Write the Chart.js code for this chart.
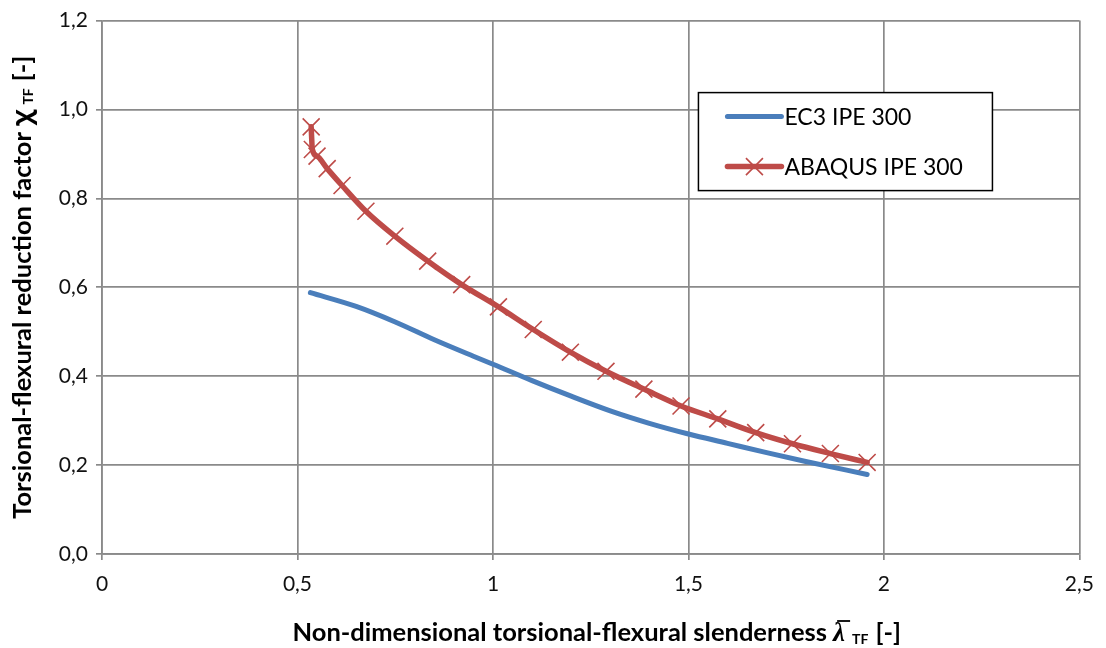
<!DOCTYPE html>
<html>
<head>
<meta charset="utf-8">
<script src="https://cdn.jsdelivr.net/npm/chart.js@4/dist/chart.umd.min.js"></script>
<style>
  html, body { margin: 0; padding: 0; background: #fff; }
  #wrap { width: 1106px; height: 648px; }
</style>
</head>
<body>
<div id="wrap"><canvas id="c" width="1106" height="648"></canvas></div>
<script>
// Tick labels (decimal comma)
const xTickLabels = ['0', '0,5', '1', '1,5', '2', '2,5'];
const yTickLabels = ['0,0', '0,2', '0,4', '0,6', '0,8', '1,0', '1,2'];

// EC3 IPE 300 – design reduction factor curve
const ec3Lambda = [0.533, 0.650, 0.750, 0.850, 0.950, 1.000, 1.100, 1.200, 1.300, 1.400, 1.500, 1.600, 1.700, 1.800, 1.957];
const ec3Chi    = [0.588, 0.557, 0.522, 0.482, 0.445, 0.427, 0.390, 0.355, 0.322, 0.294, 0.270, 0.249, 0.228, 0.208, 0.179];

// ABAQUS IPE 300 – numerical results
const abqLambda = [0.535, 0.538, 0.550, 0.576, 0.614, 0.675, 0.749, 0.833, 0.920, 1.014,
                   1.103, 1.198, 1.289, 1.386, 1.481, 1.575, 1.672, 1.766, 1.863, 1.957];
const abqChi    = [0.961, 0.910, 0.895, 0.867, 0.829, 0.771, 0.715, 0.659, 0.606, 0.556,
                   0.505, 0.454, 0.411, 0.371, 0.333, 0.304, 0.273, 0.248, 0.226, 0.206];

const seriesNames = ['EC3 IPE 300', 'ABAQUS IPE 300'];

const BLUE = '#4a7ebb';
const RED = '#be4b48';
const GRID = '#8a8a8a';
const FONT = 'Lato, "Open Sans", sans-serif';

const toPoints = (xs, ys) => xs.map((x, i) => ({ x: x, y: ys[i] }));

// Axis titles with subscripts and Greek symbols
const axisTitles = {
  id: 'axisTitles',
  afterDraw(chart) {
    const ctx = chart.ctx;
    const ca = chart.chartArea;
    const main = 'bold 25.5px ' + FONT;
    const sub = 'bold 14px ' + FONT;
    const lamFont = 'bold italic 27px "Liberation Serif", serif';
    const chiFont = 'bold 26px "Noto Sans", sans-serif';
    const gap = 7;

    // X title
    ctx.save();
    ctx.fillStyle = '#000';
    ctx.textBaseline = 'alphabetic';
    const xText = 'Non-dimensional torsional-flexural slenderness ';
    ctx.font = main; const w1 = ctx.measureText(xText).width;
    ctx.font = lamFont; const wl = ctx.measureText('λ').width;
    ctx.font = sub; const wsub = ctx.measureText('TF').width;
    ctx.font = main; const wend = ctx.measureText('[-]').width;
    const total = w1 + wl + gap + wsub + gap + wend;
    let x = (ca.left + ca.right) / 2 + 6 - total / 2;
    const base = 641;
    ctx.font = main; ctx.fillText(xText, x, base); x += w1;
    ctx.font = lamFont; ctx.fillText('λ', x, base);
    ctx.strokeStyle = '#000'; ctx.lineWidth = 1.8;
    ctx.beginPath(); ctx.moveTo(x + 4, base - 20); ctx.lineTo(x + wl + 5, base - 20); ctx.stroke();
    x += wl + gap;
    ctx.font = sub; ctx.fillText('TF', x, base + 3); x += wsub + gap;
    ctx.font = main; ctx.fillText('[-]', x, base);
    ctx.restore();

    // Y title (rotated)
    ctx.save();
    ctx.translate(31, (ca.top + ca.bottom) / 2);
    ctx.rotate(-Math.PI / 2);
    ctx.fillStyle = '#000';
    ctx.textBaseline = 'alphabetic';
    const yText = 'Torsional-flexural reduction factor ';
    ctx.font = main; const v1 = ctx.measureText(yText).width;
    ctx.font = chiFont; const vc = ctx.measureText('χ').width;
    ctx.font = sub; const vsub = ctx.measureText('TF').width;
    ctx.font = main; const vend = ctx.measureText('[-]').width;
    const vtotal = v1 + vc + 5 + vsub + gap + vend;
    let y = -vtotal / 2;
    ctx.font = main; ctx.fillText(yText, y, 0); y += v1;
    ctx.font = chiFont; ctx.fillText('χ', y, 0); y += vc + 5;
    ctx.font = sub; ctx.fillText('TF', y, 2); y += vsub + gap;
    ctx.font = main; ctx.fillText('[-]', y, 0);
    ctx.restore();
  }
};

// Boxed legend inside the plot area
const boxLegend = {
  id: 'boxLegend',
  afterDatasetsDraw(chart) {
    const ctx = chart.ctx;
    const ca = chart.chartArea;
    const left = ca.right - 381, top = ca.top + 72, w = 294, h = 98;
    ctx.save();
    ctx.fillStyle = '#fff';
    ctx.fillRect(left, top, w, h);
    ctx.strokeStyle = '#000';
    ctx.lineWidth = 1.5;
    ctx.strokeRect(left, top, w, h);
    chart.data.datasets.forEach((ds, i) => {
      const yy = top + 24 + i * 50;
      ctx.strokeStyle = ds.borderColor;
      ctx.lineWidth = ds.borderWidth;
      ctx.lineCap = 'round';
      ctx.beginPath(); ctx.moveTo(left + 29, yy); ctx.lineTo(left + 83, yy); ctx.stroke();
      if (ds.pointRadius > 0) {
        const r = ds.pointRadius * Math.SQRT1_2;
        const cx = left + 56;
        ctx.lineWidth = ds.pointBorderWidth;
        ctx.lineCap = 'butt';
        ctx.strokeStyle = ds.pointBorderColor;
        ctx.beginPath();
        ctx.moveTo(cx - r, yy - r); ctx.lineTo(cx + r, yy + r);
        ctx.moveTo(cx - r, yy + r); ctx.lineTo(cx + r, yy - r);
        ctx.stroke();
      }
      ctx.fillStyle = '#000';
      ctx.font = '23px ' + FONT;
      ctx.textBaseline = 'middle';
      ctx.fillText(seriesNames[i], left + 86, yy + 1);
    });
    ctx.restore();
  }
};

new Chart(document.getElementById('c'), {
  type: 'scatter',
  data: {
    datasets: [
      {
        label: seriesNames[0],
        data: toPoints(ec3Lambda, ec3Chi),
        showLine: true,
        borderColor: BLUE,
        backgroundColor: BLUE,
        borderWidth: 5,
        borderCapStyle: 'round',
        cubicInterpolationMode: 'monotone',
        pointRadius: 0,
        pointHoverRadius: 0
      },
      {
        label: seriesNames[1],
        data: toPoints(abqLambda, abqChi),
        showLine: true,
        borderColor: RED,
        backgroundColor: RED,
        borderWidth: 5.5,
        borderCapStyle: 'round',
        cubicInterpolationMode: 'monotone',
        pointStyle: 'crossRot',
        pointRadius: 12,
        pointBorderWidth: 1.6,
        pointBorderColor: RED,
        pointHoverRadius: 12
      }
    ]
  },
  options: {
    responsive: false,
    animation: false,
    events: [],
    layout: { padding: { top: 17, right: 23, left: 0, bottom: 0 } },
    plugins: { legend: { display: false }, tooltip: { enabled: false } },
    scales: {
      x: {
        type: 'linear',
        min: 0, max: 2.5,
        afterFit(scale) { scale.height = 94; },
        grid: { color: GRID, lineWidth: 1.7, tickLength: 6, tickColor: GRID, drawTicks: true },
        border: { color: GRID, width: 1.7 },
        ticks: {
          stepSize: 0.5,
          padding: 12,
          color: '#111',
          font: { family: FONT, size: 21 },
          callback: (v, i) => xTickLabels[i]
        }
      },
      y: {
        min: 0, max: 1.2,
        afterFit(scale) { scale.width = 102; },
        grid: { color: GRID, lineWidth: 1.7, tickLength: 6, tickColor: GRID, drawTicks: true },
        border: { color: GRID, width: 1.7 },
        ticks: {
          stepSize: 0.2,
          padding: 8,
          color: '#111',
          font: { family: FONT, size: 21 },
          callback: (v, i) => yTickLabels[i]
        }
      }
    }
  },
  plugins: [axisTitles, boxLegend]
});
</script>
</body>
</html>
